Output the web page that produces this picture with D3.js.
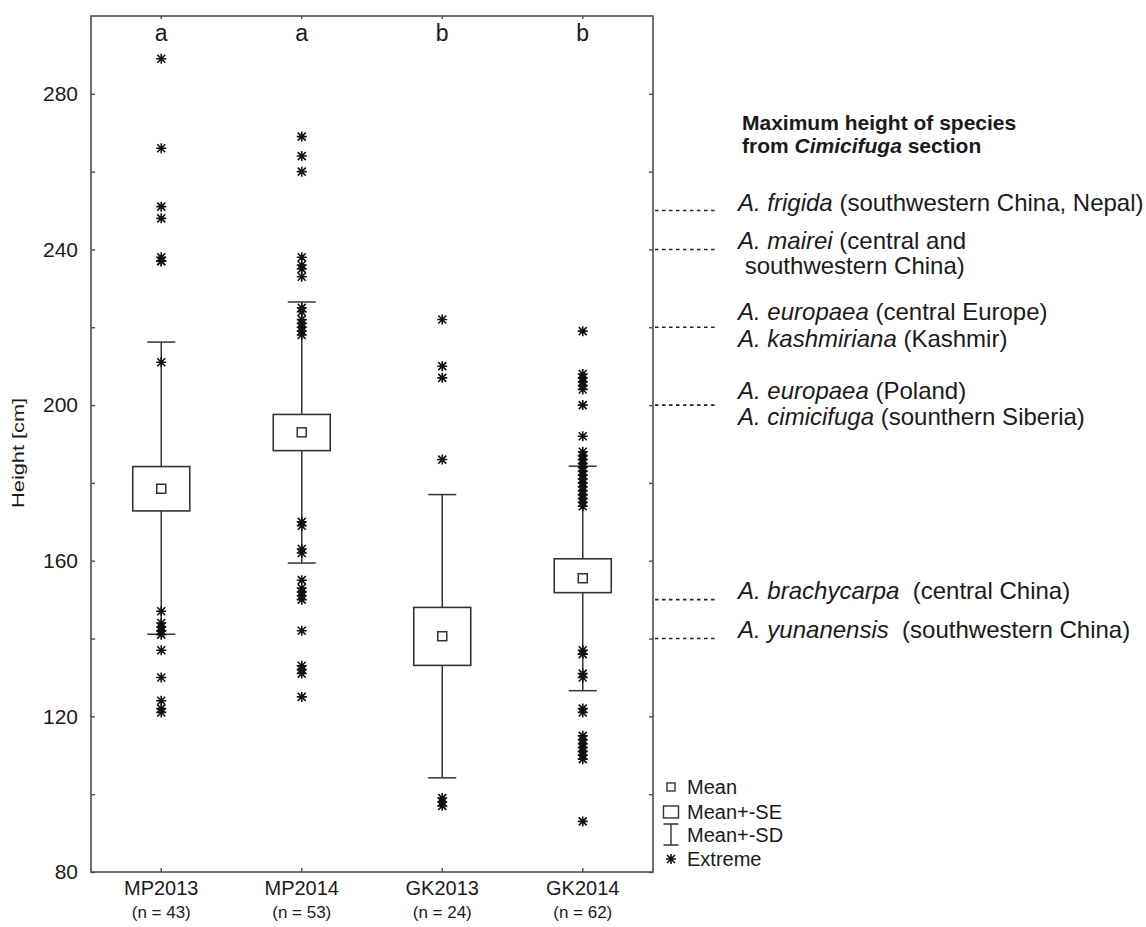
<!DOCTYPE html>
<html>
<head>
<meta charset="utf-8">
<script src="https://cdn.jsdelivr.net/npm/d3@7"></script>
<style>
  html, body { margin: 0; padding: 0; background: #fff; }
  svg { display: block; font-family: "Liberation Sans", Arial, sans-serif; }
  text { white-space: pre; }
</style>
</head>
<body>
<script>
// ---------------- DATA ----------------
const categories   = ["MP2013", "MP2014", "GK2013", "GK2014"];
const sampleSizes  = [43, 53, 24, 62];
const groupLetters = ["a", "a", "b", "b"];
const means  = [178.5, 193.0, 140.6, 155.5];
const seLow  = [172.8, 188.3, 133.1, 151.8];
const seHigh = [184.2, 197.6, 148.0, 160.5];
const sdLow  = [141.1, 159.4, 104.2, 126.6];
const sdHigh = [216.2, 226.5, 177.0, 184.3];
const extremesMP2013 = [289, 266, 251, 248, 238, 237, 237, 211, 147, 144, 143, 142, 142, 141, 137, 130, 124, 122, 121];
const extremesMP2014 = [269, 264, 260, 238, 236, 235, 233, 225, 224, 222, 221, 220, 219, 218, 170, 169, 163, 162, 155, 153, 152, 151, 150, 142, 133, 132, 131, 125];
const extremesGK2013 = [222, 210, 207, 186, 99, 98, 97];
const extremesGK2014 = [219, 208, 207, 206, 205, 204, 200, 192, 188, 187, 186, 185, 184, 183, 182, 181, 180, 179, 178, 177, 176, 175, 174, 137, 136, 131, 130, 122, 121, 115, 114, 113, 112, 111, 110, 109, 93];
const extremes = [extremesMP2013, extremesMP2014, extremesGK2013, extremesGK2014];
const yTickLabels = [80, 120, 160, 200, 240, 280];
const yMinorTicks = [80, 100, 120, 140, 160, 180, 200, 220, 240, 260, 280];

const refTitle = [[["Maximum height of species", "n"]], [["from ", "n"], ["Cimicifuga", "i"], [" section", "n"]]];
const refHeights = [250, 240, 220, 200, 150, 140];
const refLabels = [
  [[["A. frigida", "i"], [" (southwestern China, Nepal)", "n"]]],
  [[["A. mairei", "i"], [" (central and", "n"]], [[" southwestern China)", "n"]]],
  [[["A. europaea", "i"], [" (central Europe)", "n"]], [["A. kashmiriana", "i"], [" (Kashmir)", "n"]]],
  [[["A. europaea", "i"], [" (Poland)", "n"]], [["A. cimicifuga", "i"], [" (sounthern Siberia)", "n"]]],
  [[["A. brachycarpa", "i"], ["  (central China)", "n"]]],
  [[["A. yunanensis", "i"], ["  (southwestern China)", "n"]]]
];
const legendLabels = ["Mean", "Mean+-SE", "Mean+-SD", "Extreme"];

// ---------------- LAYOUT ----------------
const W = 1146, H = 927;
const plot = { left: 91, right: 653, top: 16, bottom: 872 };
const ink = "#1a1a1a", frameCol = "#4d4d4d";

const svg = d3.select("body").append("svg").attr("width", W).attr("height", H);

const x = d3.scaleBand().domain(categories).range([plot.left, plot.right]).padding(0);
const y = d3.scaleLinear().domain([80, 300]).range([plot.bottom, plot.top]);
const cx = c => x(c) + x.bandwidth() / 2;

const boxW = 57, capW = 28;

// asterisk symbol
const asterisk = {
  draw(ctx, size) {
    const r = Math.sqrt(size) / 2, d = r * 0.8;
    ctx.moveTo(0, -r); ctx.lineTo(0, r);
    ctx.moveTo(-r, 0); ctx.lineTo(r, 0);
    ctx.moveTo(-d, -d); ctx.lineTo(d, d);
    ctx.moveTo(-d, d); ctx.lineTo(d, -d);
  }
};
const starPath = d3.symbol().type(asterisk).size(100)();

// ---------------- AXES / FRAME ----------------
svg.append("rect")
  .attr("x", plot.left).attr("y", plot.top)
  .attr("width", plot.right - plot.left).attr("height", plot.bottom - plot.top)
  .attr("fill", "none").attr("stroke", frameCol).attr("stroke-width", 1.6);

function styleTicks(g) {
  g.select(".domain").remove();
  g.selectAll(".tick line").attr("stroke", frameCol).attr("stroke-width", 1.4);
}
svg.append("g").attr("transform", `translate(${plot.left},0)`)
  .call(d3.axisRight(y).tickValues(yMinorTicks).tickSize(4).tickFormat(""))
  .call(styleTicks);
svg.append("g").attr("transform", `translate(${plot.right},0)`)
  .call(d3.axisLeft(y).tickValues(yMinorTicks).tickSize(4).tickFormat(""))
  .call(styleTicks);
svg.append("g").attr("transform", `translate(0,${plot.top})`)
  .call(d3.axisBottom(x).tickSize(3).tickFormat(""))
  .call(styleTicks);
svg.append("g").attr("transform", `translate(0,${plot.bottom})`)
  .call(d3.axisTop(x).tickSize(4).tickFormat(""))
  .call(styleTicks);

// y tick labels
const yl = svg.append("g").attr("transform", `translate(${plot.left},0)`)
  .call(d3.axisLeft(y).tickValues(yTickLabels).tickSize(0).tickPadding(13));
yl.select(".domain").remove();
yl.selectAll("text").attr("font-size", 21).attr("fill", ink).attr("font-family", "Liberation Sans, Arial, sans-serif");

// y title
svg.append("text")
  .attr("transform", `translate(24,${(y(200) + y(160)) / 2 - 30}) rotate(-90)`)
  .attr("text-anchor", "middle")
  .attr("font-size", 16).attr("fill", ink)
  .attr("textLength", 110).attr("lengthAdjust", "spacingAndGlyphs")
  .text("Height [cm]");

// x labels
const xl = svg.append("g").attr("transform", `translate(0,${plot.bottom})`)
  .call(d3.axisBottom(x).tickSize(0).tickPadding(0).tickFormat(""));
xl.select(".domain").remove();
xl.selectAll(".tick").each(function (c, i) {
  const t = d3.select(this);
  t.append("text").attr("y", 23).attr("text-anchor", "middle")
    .attr("font-size", 20).attr("fill", ink).text(c);
  t.append("text").attr("y", 46).attr("text-anchor", "middle")
    .attr("font-size", 17).attr("fill", ink).text(`(n = ${sampleSizes[i]})`);
});

// group letters
svg.append("g").selectAll("text").data(categories).join("text")
  .attr("x", d => cx(d)).attr("y", y(300) + 25)
  .attr("text-anchor", "middle").attr("font-size", 23).attr("fill", ink)
  .text((d, i) => groupLetters[i]);

// ---------------- BOXES ----------------
const groups = svg.append("g").selectAll("g").data(categories).join("g");
groups.append("line") // SD whisker
  .attr("x1", d => cx(d)).attr("x2", d => cx(d))
  .attr("y1", (d, i) => y(sdHigh[i])).attr("y2", (d, i) => y(sdLow[i]))
  .attr("stroke", "#333").attr("stroke-width", 1.5);
groups.append("line")
  .attr("x1", d => cx(d) - capW / 2).attr("x2", d => cx(d) + capW / 2)
  .attr("y1", (d, i) => y(sdHigh[i])).attr("y2", (d, i) => y(sdHigh[i]))
  .attr("stroke", "#333").attr("stroke-width", 1.5);
groups.append("line")
  .attr("x1", d => cx(d) - capW / 2).attr("x2", d => cx(d) + capW / 2)
  .attr("y1", (d, i) => y(sdLow[i])).attr("y2", (d, i) => y(sdLow[i]))
  .attr("stroke", "#333").attr("stroke-width", 1.5);
groups.append("rect") // SE box
  .attr("x", d => cx(d) - boxW / 2).attr("width", boxW)
  .attr("y", (d, i) => y(seHigh[i])).attr("height", (d, i) => y(seLow[i]) - y(seHigh[i]))
  .attr("fill", "#fff").attr("stroke", "#333").attr("stroke-width", 1.6);
groups.append("rect") // mean
  .attr("x", d => cx(d) - 4.5).attr("width", 9)
  .attr("y", (d, i) => y(means[i]) - 4.5).attr("height", 9)
  .attr("fill", "#fff").attr("stroke", "#333").attr("stroke-width", 1.5);

// extremes
groups.each(function (c, i) {
  d3.select(this).selectAll("path.ext").data(extremes[i]).join("path")
    .attr("class", "ext")
    .attr("transform", v => `translate(${cx(c)},${y(v)})`)
    .attr("d", starPath)
    .attr("stroke", "#111").attr("stroke-width", 1.6).attr("fill", "none");
});

// ---------------- REFERENCE ANNOTATIONS ----------------
const annX = 738;
function writeLine(sel, segs) {
  segs.forEach(([t, s]) => {
    sel.append("tspan").attr("font-style", s === "i" ? "italic" : "normal").text(t);
  });
}
// title
refTitle.forEach((line, k) => {
  const t = svg.append("text").attr("x", 742).attr("y", 130 + k * 23)
    .attr("font-size", 21).attr("font-weight", "bold").attr("fill", ink);
  writeLine(t, line);
});

const annG = svg.append("g");
annG.selectAll("line").data(refHeights).join("line")
  .attr("x1", plot.right + 2).attr("x2", 718)
  .attr("y1", d => y(d)).attr("y2", d => y(d))
  .attr("stroke", "#222").attr("stroke-width", 1.6)
  .attr("stroke-dasharray", "3.5,3.5");

const lineShift = [[0], [0, 25], [-7, 20], [-6, 20], [-1], [-1]];
refLabels.forEach((lines, k) => {
  lines.forEach((segs, j) => {
    const t = annG.append("text").attr("x", annX).attr("y", y(refHeights[k]) + lineShift[k][j])
      .attr("font-size", 24).attr("fill", ink);
    writeLine(t, segs);
  });
});

// ---------------- LEGEND ----------------
const lg = svg.append("g").attr("transform", "translate(671,0)");
const rowY = [787, 812, 835, 859];
lg.append("rect").attr("x", -4).attr("y", rowY[0] - 4).attr("width", 8).attr("height", 8)
  .attr("fill", "#fff").attr("stroke", "#333").attr("stroke-width", 1.4);
lg.append("rect").attr("x", -7.5).attr("y", rowY[1] - 6).attr("width", 15).attr("height", 12)
  .attr("fill", "#fff").attr("stroke", "#333").attr("stroke-width", 1.4);
lg.append("path").attr("d", `M-7.5,${rowY[2] - 11}H7.5M0,${rowY[2] - 11}V${rowY[2] + 10}M-7.5,${rowY[2] + 10}H7.5`)
  .attr("fill", "none").attr("stroke", "#333").attr("stroke-width", 1.4);
lg.append("path").attr("transform", `translate(0,${rowY[3]})`).attr("d", starPath)
  .attr("fill", "none").attr("stroke", "#111").attr("stroke-width", 1.6);
lg.selectAll("text").data(legendLabels).join("text")
  .attr("x", 16).attr("y", (d, i) => rowY[i]).attr("dy", "0.35em")
  .attr("font-size", 20).attr("fill", ink).text(d => d);
</script>
</body>
</html>
